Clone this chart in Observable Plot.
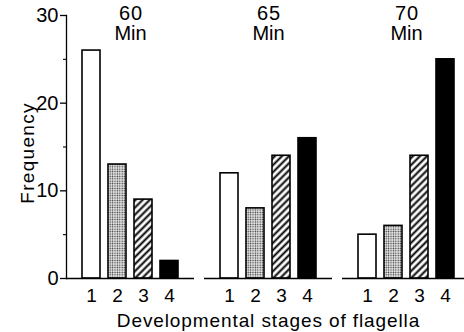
<!DOCTYPE html>
<html><head><meta charset="utf-8">
<script src="https://cdn.jsdelivr.net/npm/d3@7"></script>
<script src="https://cdn.jsdelivr.net/npm/@observablehq/plot@0.6"></script>
<style>html,body{margin:0;padding:0;background:#fff;overflow:hidden} svg{display:block}</style>
</head><body><div id="chart"></div>
<script>
const times = ["60", "65", "70"];
const stages = ["1", "2", "3", "4"];
const freq60 = [26, 13, 9, 2];
const freq65 = [12, 8, 14, 16];
const freq70 = [5, 6, 14, 25];
const yTicks = [0, 10, 20, 30];
const yMinor = [5, 15, 25];
const timeUnit = "Min";
const xLabel = "Developmental stages of flagella";
const yLabel = "Frequency";

const fills = ["white", "url(#stipple)", "url(#hatch)", "black"];
const series = [freq60, freq65, freq70];
const data = times.flatMap((t, i) => stages.map((s, j) => ({time: t, stage: s, value: series[i][j]})));

const font = "'Liberation Sans', Arial, sans-serif";
const svg = Plot.plot({
  width: 464, height: 332,
  marginLeft: 65, marginRight: -6, marginTop: 15, marginBottom: 54,
  style: {fontFamily: font, fontSize: "19px", color: "black", background: "white", overflow: "visible"},
  fx: {domain: times, paddingInner: 0.076, paddingOuter: 0, axis: null, label: null},
  x: {domain: stages, paddingInner: 0.3, paddingOuter: 0.6, label: null, axis: null},
  y: {domain: [0, 30], label: null, axis: null},
  color: {type: "ordinal", domain: stages, range: fills},
  marks: [
    Plot.barY(data, {fx: "time", x: "stage", y: "value", fill: "stage", stroke: "black", strokeWidth: 1.6}),
    Plot.ruleY([0], {strokeWidth: 1.6}),
    Plot.frame({anchor: "left", facetAnchor: "left", strokeWidth: 1.3}),
    Plot.axisY({ticks: yTicks, tickSize: 6, tickPadding: 2, strokeWidth: 1.3, fontSize: 20}),
    Plot.axisY({ticks: yMinor, tickSize: 3, tickFormat: () => "", strokeWidth: 1.1}),
    Plot.axisX({tickSize: 0, tickPadding: 10, fontSize: 19, label: null}),
    Plot.text(times, {fx: d => d, text: d => `${d}\n${timeUnit}`, frameAnchor: "top", lineAnchor: "top", dy: -10, fontSize: 20, lineHeight: 1.0}),
    Plot.text([xLabel], {fx: [times[1]], frameAnchor: "bottom", lineAnchor: "middle", dy: 42, fontSize: 19}),
    Plot.text([yLabel], {fx: [times[0]], frameAnchor: "left", textAnchor: "middle", rotate: -90, dx: -39, dy: 6, fontSize: 19})
  ]
});

const root = d3.select(svg);
root.selectAll("text").filter(function () { return this.textContent === xLabel; }).attr("letter-spacing", "0.9px");
root.selectAll("text").filter(function () { return this.textContent === yLabel; }).attr("letter-spacing", "1.3px");
root.selectAll("tspan").filter(function () { return times.includes(this.textContent); }).attr("letter-spacing", "1px").attr("dx", "0.5");

const defs = root.insert("defs", ":first-child");
const st = defs.append("pattern").attr("id", "stipple").attr("patternUnits", "userSpaceOnUse")
  .attr("width", 2.4).attr("height", 2.4);
st.append("rect").attr("width", 2.4).attr("height", 2.4).attr("fill", "#ececec");
st.append("circle").attr("cx", 1.2).attr("cy", 1.2).attr("r", 0.75).attr("fill", "#333");
const ht = defs.append("pattern").attr("id", "hatch").attr("patternUnits", "userSpaceOnUse")
  .attr("width", 5).attr("height", 5).attr("patternTransform", "rotate(45)");
ht.append("rect").attr("width", 5).attr("height", 5).attr("fill", "white");
ht.append("line").attr("x1", 1.5).attr("y1", 0).attr("x2", 1.5).attr("y2", 5)
  .attr("stroke", "black").attr("stroke-width", 2);

document.getElementById("chart").appendChild(svg);
</script>
</body></html>
